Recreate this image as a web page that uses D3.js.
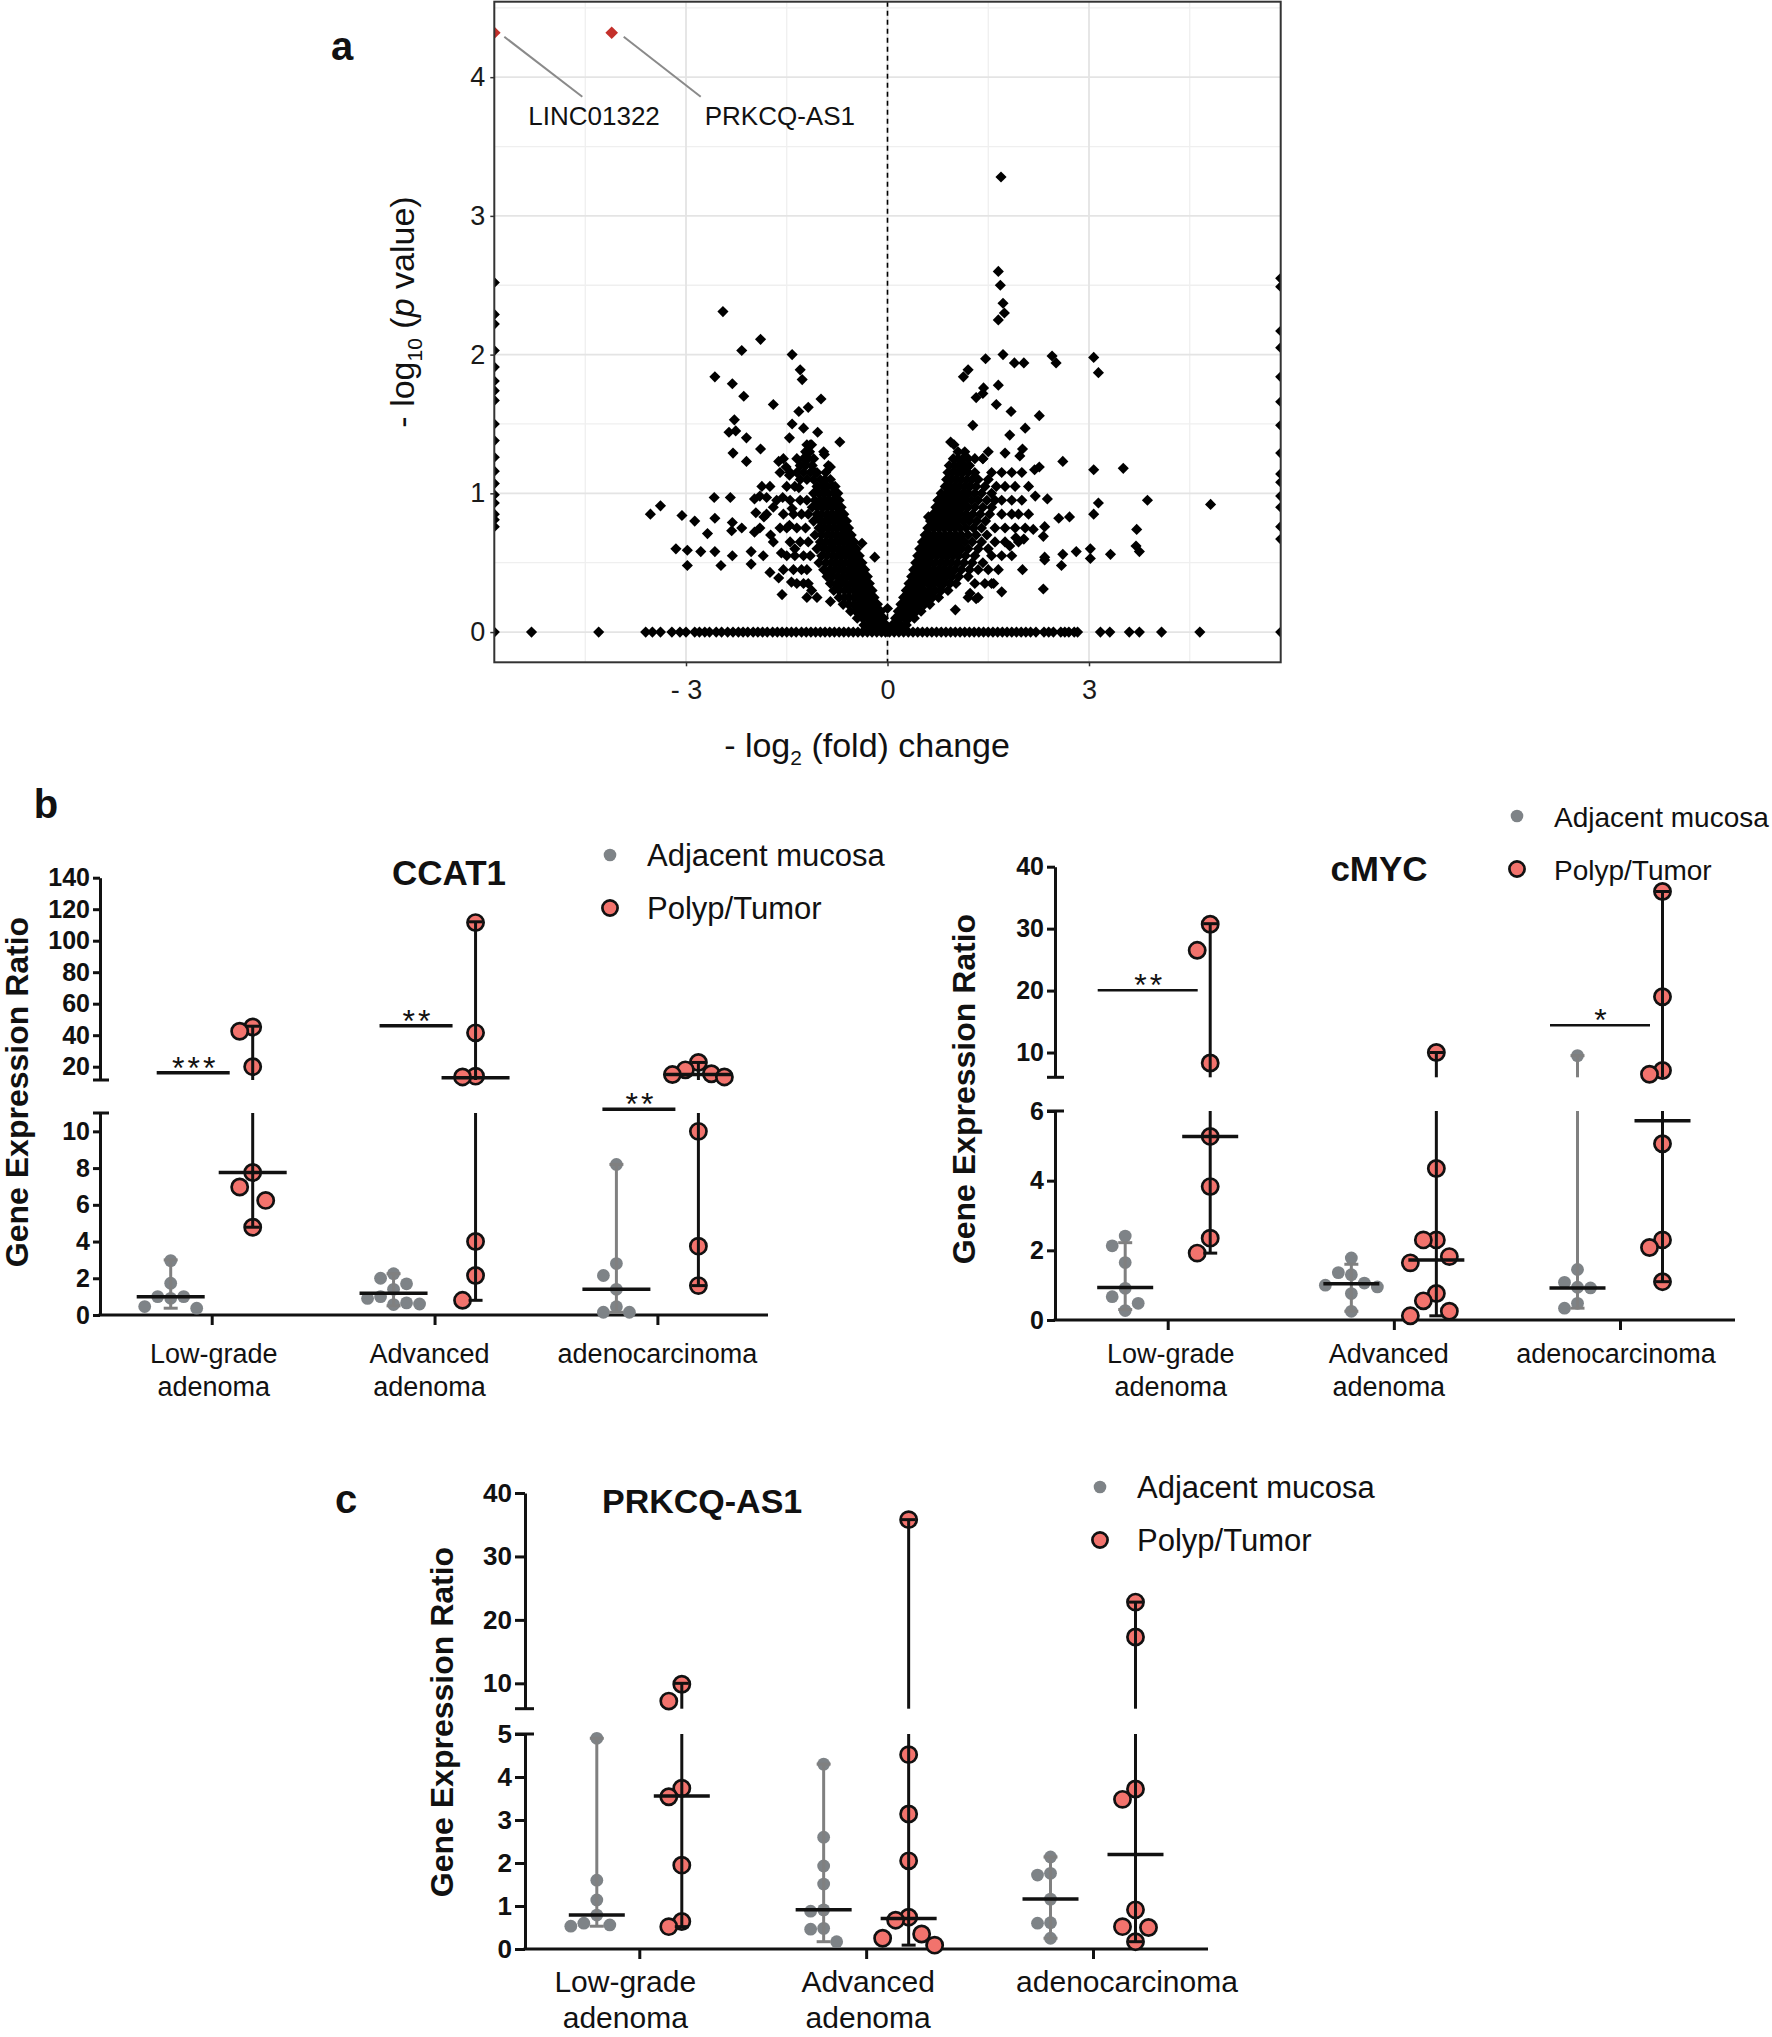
<!DOCTYPE html>
<html>
<head>
<meta charset="utf-8">
<script src="https://cdn.jsdelivr.net/npm/d3@7"></script>
<style>
  body { margin: 0; background: #fff; }
  svg { display: block; }
</style>
</head>
<body>
<script>
(function() {
  'use strict';

  var W = 1772, H = 2037;
  var FONT = '"Liberation Sans", Arial, sans-serif';

  // ---------- panel a : volcano ----------
  var volcanoXTicks = [-3, 0, 3];
  var volcanoXTickLabels = ["- 3", "0", "3"];
  var volcanoYTicks = [0, 1, 2, 3, 4];

  // scattered genes [log2 fold change, -log10 p]
  var volcanoSparse = [
    [-2.45,2.31],[-1.89,2.11],[-2.17,2.03],[-1.42,2.0],[-1.30,1.89],[-1.27,1.82],[-2.57,1.84],[-2.31,1.79],
    [-2.14,1.70],[-1.70,1.64],[-0.99,1.68],[-1.18,1.62],[-1.32,1.59],[-2.28,1.53],[-2.36,1.44],[-2.26,1.45],
    [-1.42,1.50],[-1.25,1.47],[-1.46,1.40],[-1.04,1.44],[-0.71,1.37],[-2.10,1.40],[-1.89,1.32],[-2.30,1.29],
    [-2.10,1.23],[-1.13,1.35],[-1.2,1.3],[-1.22,1.25],[-0.94,1.28],[-1.62,1.23],[-1.51,1.19],[-1.46,1.13],
    [-1.08,1.15],[-0.85,1.19],[-1.87,1.05],[-1.32,1.04],[-2.58,0.97],[-2.34,0.97],[-1.98,0.96],[-1.9,0.98],
    [-1.8,0.97],[-1.56,0.97],[-3.38,0.91],[-3.53,0.85],[-3.06,0.84],[-2.87,0.80],[-2.57,0.82],[-2.31,0.79],
    [-2.17,0.75],[-1.96,0.86],[-1.84,0.83],[-1.70,0.90],[-1.42,0.89],[-2.68,0.71],[-2.32,0.73],[-1.98,0.72],
    [-1.74,0.70],[-1.46,0.77],[-3.15,0.60],[-2.98,0.59],[-2.78,0.58],[-2.57,0.58],[-2.31,0.55],[-2.03,0.58],
    [-1.58,0.57],[-1.38,0.60],[-2.98,0.48],[-2.48,0.48],[-2.03,0.49],[-1.75,0.43],[-1.62,0.39],[-1.43,0.36],
    [-1.18,0.35],[-1.57,0.27],[-1.13,0.30],[-0.85,0.22],[-0.38,0.64],[-0.19,0.54],[0,0.17],
    [1.69,3.28],[1.65,2.60],[1.68,2.50],[1.72,2.37],[1.74,2.30],[1.65,2.25],[1.72,2.0],[1.89,1.94],[2.03,1.94],
    [2.45,1.99],[2.51,1.94],[3.07,1.98],[3.14,1.87],[1.46,1.97],[1.20,1.89],[1.13,1.84],[1.65,1.78],
    [1.43,1.76],[1.42,1.72],[1.32,1.69],[1.62,1.64],[1.84,1.59],[2.26,1.56],[1.27,1.49],[2.05,1.47],
    [1.82,1.42],[0.94,1.37],[0.99,1.35],[2.01,1.32],[1.75,1.29],[1.97,1.27],[1.42,1.25],[2.61,1.23],
    [3.07,1.17],[3.51,1.18],[2.19,1.17],[2.26,1.19],[2.2,0.98],[2.38,0.96],[3.14,0.93],[3.87,0.95],
    [4.81,0.92],[3.07,0.85],[2.55,0.82],[2.71,0.83],[2.34,0.76],[2.17,0.74],[2.32,0.69],[1.91,0.68],
    [2.03,0.67],[3.71,0.74],[3.02,0.60],[3.02,0.53],[2.81,0.58],[2.61,0.56],[2.34,0.54],[2.34,0.52],
    [2.59,0.48],[3.32,0.56],[3.70,0.62],[3.75,0.58],[1.82,0.62],[2.01,0.45],[2.32,0.31],[1.70,0.29],
    [1.58,0.35],[1.23,0.28],[1.32,0.24],[1.01,0.16],[0.75,0.95],[0.61,0.83]
  ];

  // dense clouds, read row by row: [-log10 p, [fold changes]]
  var leftCoreRows = [
    [1.35,[-1.2,-1.15]],
    [1.30,[-1.22,-1.16,-0.95]],
    [1.25,[-1.25,-1.18,-1.1,-1.55,-1.35]],
    [1.20,[-1.3,-1.22,-1.12,-0.88]],
    [1.15,[-1.35,-1.25,-1.15,-1.05,-0.92,-1.6,-1.45]],
    [1.10,[-1.3,-1.2,-1.1,-1.0,-0.93,-0.85]],
    [1.05,[-1.05,-0.97,-0.9,-0.82,-0.78,-1.75,-1.5,-1.38]],
    [1.00,[-1.1,-1.02,-0.95,-0.88,-0.8,-0.74]],
    [0.95,[-1.08,-1.0,-0.93,-0.86,-0.79,-0.72,-1.65,-1.45,-1.3,-1.2]],
    [0.90,[-1.12,-1.04,-0.96,-0.89,-0.82,-0.75,-0.69]],
    [0.85,[-1.05,-0.98,-0.9,-0.83,-0.76,-0.7,-0.65,-1.8,-1.55,-1.4,-1.28,-1.18]],
    [0.80,[-1.1,-1.0,-0.93,-0.86,-0.79,-0.72,-0.66,-0.61]],
    [0.75,[-1.02,-0.95,-0.88,-0.81,-0.74,-0.67,-0.62,-0.58,-1.9,-1.6,-1.5,-1.35,-1.22]],
    [0.70,[-1.08,-0.98,-0.9,-0.83,-0.76,-0.69,-0.63,-0.58,-0.54]],
    [0.65,[-1.0,-0.92,-0.85,-0.78,-0.71,-0.65,-0.59,-0.54,-0.5,-1.7,-1.45,-1.3,-1.18]],
    [0.60,[-1.05,-0.95,-0.87,-0.8,-0.73,-0.66,-0.6,-0.55,-0.5,-0.46]],
    [0.55,[-0.98,-0.9,-0.82,-0.75,-0.68,-0.62,-0.56,-0.51,-0.46,-0.42,-1.85,-1.5,-1.38,-1.25,-1.15]],
    [0.50,[-1.02,-0.92,-0.84,-0.77,-0.7,-0.63,-0.57,-0.52,-0.47,-0.42,-0.38]],
    [0.45,[-0.95,-0.86,-0.79,-0.72,-0.65,-0.58,-0.52,-0.47,-0.42,-0.38,-0.34,-1.55,-1.4,-1.28,-1.2]],
    [0.40,[-0.9,-0.82,-0.74,-0.67,-0.6,-0.54,-0.48,-0.43,-0.38,-0.34,-0.3]],
    [0.35,[-0.85,-0.76,-0.69,-0.62,-0.55,-0.49,-0.44,-0.39,-0.34,-0.3,-0.27,-1.35,-1.25]],
    [0.30,[-0.8,-0.72,-0.64,-0.57,-0.5,-0.44,-0.39,-0.34,-0.3,-0.26,-0.23]],
    [0.25,[-0.72,-0.64,-0.57,-0.5,-0.44,-0.38,-0.33,-0.28,-0.24,-0.2,-1.2,-1.05]],
    [0.20,[-0.66,-0.58,-0.5,-0.43,-0.37,-0.31,-0.26,-0.22,-0.18,-0.15]],
    [0.15,[-0.55,-0.47,-0.4,-0.33,-0.27,-0.22,-0.17,-0.13,-0.1]],
    [0.10,[-0.45,-0.37,-0.3,-0.24,-0.18,-0.13,-0.09,-0.06]],
    [0.05,[-0.35,-0.27,-0.2,-0.14,-0.09,-0.05,-0.02]],
    [0.02,[-0.25,-0.17,-0.1,-0.04,0.0]]
  ];
  var rightCoreRows = [
    [1.30,[1.05,1.15,1.5]],
    [1.25,[0.98,1.05,1.12,1.2,1.3,1.42]],
    [1.20,[0.92,1.0,1.08,1.15,1.22]],
    [1.15,[0.9,0.97,1.05,1.12,1.2,1.3,1.55,1.7,1.85,2.0]],
    [1.10,[0.88,0.95,1.02,1.1,1.18,1.26,1.35,1.5]],
    [1.05,[0.86,0.93,1.0,1.07,1.15,1.23,1.32,1.45,1.62,1.75,1.9,2.1]],
    [1.00,[0.8,0.88,0.96,1.04,1.12,1.2,1.3,1.4,1.55]],
    [0.95,[0.76,0.84,0.92,1.0,1.08,1.16,1.25,1.35,1.48,1.6,1.7,1.85,2.0]],
    [0.90,[0.72,0.8,0.88,0.96,1.04,1.12,1.2,1.3,1.42,1.55]],
    [0.85,[0.68,0.76,0.84,0.92,1.0,1.08,1.17,1.27,1.38,1.52,1.7,1.85,1.95,2.1]],
    [0.80,[0.64,0.72,0.8,0.88,0.96,1.04,1.13,1.22,1.33,1.46]],
    [0.75,[0.6,0.68,0.76,0.84,0.92,1.0,1.08,1.17,1.28,1.4,1.6,1.75,1.9,2.05]],
    [0.70,[0.56,0.63,0.7,0.78,0.86,0.94,1.02,1.1,1.2,1.32,1.48]],
    [0.65,[0.52,0.59,0.66,0.74,0.82,0.9,0.98,1.06,1.15,1.26,1.4,1.6,1.75,1.95]],
    [0.60,[0.48,0.55,0.62,0.7,0.78,0.86,0.94,1.02,1.1,1.2,1.35,1.5]],
    [0.55,[0.45,0.52,0.59,0.66,0.74,0.82,0.9,0.98,1.06,1.16,1.3,1.55,1.7,1.85]],
    [0.50,[0.42,0.49,0.56,0.63,0.71,0.79,0.87,0.95,1.04,1.14,1.26,1.42]],
    [0.45,[0.39,0.46,0.53,0.6,0.68,0.76,0.84,0.92,1.0,1.1,1.22,1.35,1.5,1.65]],
    [0.40,[0.36,0.42,0.49,0.56,0.64,0.72,0.8,0.88,0.96,1.06,1.2]],
    [0.35,[0.32,0.38,0.45,0.52,0.6,0.68,0.76,0.84,0.93,1.02,1.3,1.45,1.55]],
    [0.30,[0.28,0.34,0.41,0.48,0.55,0.63,0.71,0.8,0.9]],
    [0.25,[0.24,0.3,0.37,0.44,0.51,0.59,0.67,0.76,1.2,1.35]],
    [0.20,[0.2,0.26,0.33,0.4,0.47,0.55,0.63]],
    [0.15,[0.16,0.22,0.29,0.36,0.43,0.5]],
    [0.10,[0.12,0.18,0.25,0.32,0.4]],
    [0.05,[0.07,0.13,0.2,0.28]],
    [0.02,[0.03,0.09,0.16]]
  ];

  // genes with p = 1
  var zeroLineX = [
    -5.3,-4.3,-3.6,-3.5,-3.38,-3.21,-3.09,-3.0,-2.87,-2.8,-2.72,-2.65,-2.55,-2.47,-2.38,-2.3,-2.22,-2.15,
    -2.08,-2.0,-1.93,-1.86,-1.79,-1.71,-1.64,-1.57,-1.5,-1.43,-1.36,-1.28,-1.21,-1.14,-1.07,-1.0,-0.93,
    -0.86,-0.79,-0.72,-0.65,-0.58,-0.51,-0.44,-0.37,-0.3,-0.23,-0.16,-0.09,-0.03,0.03,0.1,0.17,0.24,0.31,
    0.38,0.45,0.52,0.59,0.66,0.73,0.8,0.87,0.94,1.01,1.08,1.15,1.22,1.29,1.36,1.43,1.5,1.57,1.64,1.71,
    1.78,1.85,1.92,1.99,2.06,2.13,2.21,2.33,2.4,2.47,2.58,2.64,2.7,2.78,2.83,3.17,3.31,3.6,3.75,4.08,4.65
  ];
  // genes beyond the x range, drawn on the panel edge
  var edgeLeftY = [2.52,2.29,2.22,2.03,1.91,1.81,1.74,1.67,1.5,1.38,1.26,1.16,1.07,0.99,0.93,0.85,0.81,0.76,0];
  var edgeRightY = [2.55,2.49,2.17,2.05,1.84,1.66,1.49,1.29,1.14,1.08,0.98,0.90,0.76,0.67,0];

  var labelledGenes = ["LINC01322", "PRKCQ-AS1"];
  var labelledX = [-7, -4.106];
  var labelledY = [4.32, 4.32];

  // ---------- panels b, c ----------
  var groupNames = ["Low-grade adenoma", "Advanced adenoma", "adenocarcinoma"];
  var groupLines = [["Low-grade", "adenoma"], ["Advanced", "adenoma"], ["adenocarcinoma"]];

  var ccat1Adjacent = [[2.96,1.73,1.0,1.0,0.91,0.46,0.37],
                       [2.25,2.0,1.7,1.4,1.0,0.9,0.66,0.6,0.57],
                       [8.2,2.8,2.15,1.4,0.45,0.15,0.15]];
  var ccat1AdjMedian = [1.0, 1.18, 1.4];
  var ccat1AdjRange = [[0.37,3.0],[0.5,2.25],[0.15,8.2]];
  var ccat1Tumor = [[45.2,42.5,20,7.76,6.97,6.24,4.78],
                    [111.5,41.5,14,13.5,4.0,2.15,0.8],
                    [22.7,18,15.5,15,13.5,10.0,3.75,1.6]];
  var ccat1TumMedian = [7.76, 13, 15];
  var ccat1TumRange = [[4.78,45.7],[0.8,112],[1.6,22.7]];
  var ccat1Stars = ["***", "**", "**"];
  var ccat1StarLevel = [16.2, 46, 11.2];
  var ccat1LowerTicks = [0,2,4,6,8,10];
  var ccat1UpperTicks = [20,40,60,80,100,120,140];

  var cmycAdjacent = [[2.41,2.13,1.65,0.91,0.67,0.48,0.27],
                      [1.78,1.36,1.3,1.06,1.0,0.95,0.76,0.25],
                      [9.5,1.45,1.08,0.94,0.92,0.48,0.34]];
  var cmycAdjMedian = [0.93, 1.04, 0.92];
  var cmycAdjRange = [[0.3,2.22],[0.25,1.6],[0.34,9.5]];
  var cmycTumor = [[30.7,26.5,8.3,5.27,3.83,2.35,1.92],
                   [10.0,4.35,2.3,2.3,1.82,1.64,0.76,0.55,0.25,0.12],
                   [36,19,7.1,6.5,5.06,2.3,2.08,1.1]];
  var cmycTumMedian = [5.27, 1.72, 5.72];
  var cmycTumRange = [[1.92,30.8],[0.12,10],[1.1,36]];
  var cmycStars = ["**", "", "*"];
  var cmycStarLevel = [20.05, null, 14.4];
  var cmycLowerTicks = [0,2,4,6];
  var cmycUpperTicks = [10,20,30,40];

  var prkcqAdjacent = [[4.9,1.6,1.14,0.79,0.6,0.56,0.53],
                       [4.3,2.6,1.93,1.51,0.91,0.88,0.48,0.46,0.17],
                       [2.14,1.76,1.72,1.16,0.61,0.6,0.25]];
  var prkcqAdjMedian = [0.79, 0.91, 1.16];
  var prkcqAdjRange = [[0.53,4.9],[0.17,4.3],[0.25,2.14]];
  var prkcqTumor = [[9.85,7.2,3.74,3.54,1.95,0.64,0.52],
                    [35.8,4.52,3.14,2.05,0.74,0.67,0.35,0.25,0.09],
                    [22.8,17.3,3.72,3.48,0.91,0.52,0.5,0.17]];
  var prkcqTumMedian = [3.56, 0.71, 2.2];
  var prkcqTumRange = [[0.52,10],[0.09,35.8],[0.17,22.8]];
  var prkcqLowerTicks = [0,1,2,3,4,5];
  var prkcqUpperTicks = [10,20,30,40];

  var legendLabels = ["Adjacent mucosa", "Polyp/Tumor"];

  var GREY = "#7e8387", RED = "#f2736d", INK = "#111";
  var intFormat = d3.format("d");

  var svg = d3.select("body")
    .append("svg")
      .attr("width", W)
      .attr("height", H)
      .style("font-family", FONT);

  svg.append("rect").attr("width", W).attr("height", H).attr("fill", "#fff");

  // ================= panel a =================
  var box = {left: 494.3, right: 1280.7, top: 1.7, bottom: 662.3};
  var vx = d3.scaleLinear().domain([-5.854, 5.854]).range([box.left, box.right]).clamp(true);
  var vy = d3.scaleLinear().domain([-0.218, 4.544]).range([box.bottom, box.top]);

  var ga = svg.append("g");

  ga.selectAll(null).data([0.5, 1.5, 2.5, 3.5, 4.5]).enter().append("line")
    .attr("x1", box.left).attr("x2", box.right)
    .attr("y1", function(d) { return vy(d); }).attr("y2", function(d) { return vy(d); })
    .attr("stroke", "#efefef").attr("stroke-width", 1.3);
  ga.selectAll(null).data([-4.5, -1.5, 1.5, 4.5]).enter().append("line")
    .attr("y1", box.top).attr("y2", box.bottom)
    .attr("x1", function(d) { return vx(d); }).attr("x2", function(d) { return vx(d); })
    .attr("stroke", "#efefef").attr("stroke-width", 1.3);
  ga.selectAll(null).data(volcanoYTicks).enter().append("line")
    .attr("x1", box.left).attr("x2", box.right)
    .attr("y1", function(d) { return vy(d); }).attr("y2", function(d) { return vy(d); })
    .attr("stroke", "#e4e4e4").attr("stroke-width", 1.8);
  ga.selectAll(null).data(volcanoXTicks).enter().append("line")
    .attr("y1", box.top).attr("y2", box.bottom)
    .attr("x1", function(d) { return vx(d); }).attr("x2", function(d) { return vx(d); })
    .attr("stroke", "#e4e4e4").attr("stroke-width", 1.8);

  ga.append("line")
    .attr("x1", vx(0)).attr("x2", vx(0)).attr("y1", box.top).attr("y2", box.bottom)
    .attr("stroke", "#000").attr("stroke-width", 1.6).attr("stroke-dasharray", "5,4");

  var volcanoPoints = volcanoSparse.slice();
  leftCoreRows.concat(rightCoreRows).forEach(function(r) {
    r[1].forEach(function(x) { volcanoPoints.push([x, r[0]]); });
  });
  zeroLineX.forEach(function(x) { volcanoPoints.push([x, 0]); });
  edgeLeftY.forEach(function(y) { volcanoPoints.push([-7, y]); });
  edgeRightY.forEach(function(y) { volcanoPoints.push([7, y]); });

  svg.append("clipPath").attr("id", "clipA")
    .append("rect")
      .attr("x", box.left).attr("y", box.top)
      .attr("width", box.right - box.left).attr("height", box.bottom - box.top);

  var diamond = d3.symbol().type(d3.symbolSquare).size(62);
  var bigDiamond = d3.symbol().type(d3.symbolSquare).size(80);
  var pts = ga.append("g").attr("clip-path", "url(#clipA)");
  pts.selectAll(null).data(volcanoPoints).enter().append("path")
    .attr("d", diamond)
    .attr("transform", function(d) { return "translate(" + vx(d[0]) + "," + vy(d[1]) + ") rotate(45)"; })
    .attr("fill", "#000");

  pts.selectAll(null).data(labelledGenes).enter().append("path")
    .attr("d", bigDiamond)
    .attr("transform", function(d, i) { return "translate(" + vx(labelledX[i]) + "," + vy(labelledY[i]) + ") rotate(45)"; })
    .attr("fill", "#c4302b");

  // repel segments + labels
  var labelDx = [[10, 88], [12, 89]];
  ga.selectAll(null).data(labelledGenes).enter().append("line")
    .attr("x1", function(d, i) { return vx(labelledX[i]) + labelDx[i][0]; })
    .attr("y1", function(d, i) { return vy(labelledY[i]) + 4; })
    .attr("x2", function(d, i) { return vx(labelledX[i]) + labelDx[i][1]; })
    .attr("y2", function(d, i) { return vy(labelledY[i]) + 64; })
    .attr("stroke", "#8a8a8a").attr("stroke-width", 2);
  ga.selectAll(null).data(labelledGenes).enter().append("text")
    .attr("x", function(d, i) { return vx(labelledX[i]) + (i === 0 ? 34 : 93); })
    .attr("y", function(d, i) { return vy(labelledY[i]) + 92; })
    .attr("font-size", 26).attr("fill", "#111")
    .text(function(d) { return d; });

  ga.append("rect")
    .attr("x", box.left).attr("y", box.top)
    .attr("width", box.right - box.left).attr("height", box.bottom - box.top)
    .attr("fill", "none").attr("stroke", "#333").attr("stroke-width", 2);

  var ayAxis = ga.append("g").attr("transform", "translate(" + box.left + ",0)")
    .call(d3.axisLeft(vy).tickValues(volcanoYTicks).tickSize(4).tickPadding(5).tickSizeOuter(0)
      .tickFormat(intFormat));
  var axAxis = ga.append("g").attr("transform", "translate(0," + box.bottom + ")")
    .call(d3.axisBottom(vx).tickValues(volcanoXTicks).tickSize(4).tickPadding(14).tickSizeOuter(0)
      .tickFormat(function(d, i) { return volcanoXTickLabels[i]; }));
  [ayAxis, axAxis].forEach(function(a) {
    a.select(".domain").remove();
    a.selectAll("line").attr("stroke", "#333").attr("stroke-width", 1.5);
    a.selectAll("text").attr("font-size", 27).attr("font-family", FONT).attr("fill", "#1a1a1a");
  });

  var xt = ga.append("text").attr("x", 867).attr("y", 757).attr("text-anchor", "middle")
    .attr("font-size", 34).attr("fill", "#111");
  xt.append("tspan").text("- log");
  xt.append("tspan").attr("font-size", 21).attr("dy", 8).text("2");
  xt.append("tspan").attr("dy", -8).text(" (fold) change");

  var yt = ga.append("text").attr("transform", "translate(414,312) rotate(-90)")
    .attr("text-anchor", "middle").attr("font-size", 34).attr("fill", "#111");
  yt.append("tspan").text("- log");
  yt.append("tspan").attr("font-size", 21).attr("dy", 8).text("10");
  yt.append("tspan").attr("dy", -8).text(" (");
  yt.append("tspan").attr("font-style", "italic").text("p");
  yt.append("tspan").text(" value)");

  // ================= panels b, c =================
  function swarm(values, yOf, step, tol) {
    var order = values.map(function(v) { return {v: v, py: yOf(v), dx: 0}; })
      .sort(function(a, b) { return a.py - b.py; });
    var placed = [];
    var cands = [0, -1, 1, -2, 2, -3, 3];
    order.forEach(function(p) {
      for (var k = 0; k < cands.length; k++) {
        var dx = cands[k] * step;
        var hit = placed.some(function(q) {
          return Math.abs(q.py - p.py) < tol && Math.abs(q.dx - dx) < step * 0.5;
        });
        if (!hit) { p.dx = dx; break; }
      }
      placed.push(p);
    });
    return placed;
  }

  function brokenPanel(c) {
    var g = svg.append("g");
    var lower = d3.scaleLinear().domain(c.lowerDomain).range(c.lowerRange);
    var upper = d3.scaleLinear().domain(c.upperDomain).range(c.upperRange);
    var gx = d3.scalePoint().domain(groupNames).range(c.groupRange);
    function yOf(v) {
      if (v <= c.lowerDomain[1]) return lower(v);
      if (v >= c.upperDomain[0]) return upper(v);
      return lower(v);
    }

    // axes
    [[lower, c.lowerTicks], [upper, c.upperTicks]].forEach(function(s) {
      var a = g.append("g").attr("transform", "translate(" + c.axisX + ",0)")
        .call(d3.axisLeft(s[0]).tickValues(s[1]).tickSize(c.tick).tickSizeOuter(0).tickPadding(c.pad)
          .tickFormat(intFormat));
      a.selectAll("path,line").attr("stroke", INK).attr("stroke-width", 3);
      a.selectAll("text").attr("font-size", c.tickFont).attr("font-weight", "bold")
        .attr("font-family", FONT).attr("fill", INK);
    });
    [lower(c.lowerDomain[1]), upper(c.upperDomain[0])].forEach(function(y) {
      g.append("line").attr("x1", c.axisX - c.tick).attr("x2", c.axisX + 9)
        .attr("y1", y).attr("y2", y).attr("stroke", INK).attr("stroke-width", 3);
    });
    g.append("line").attr("x1", c.axisX - 1.5).attr("x2", c.axisEnd)
      .attr("y1", lower(0)).attr("y2", lower(0)).attr("stroke", INK).attr("stroke-width", 3);
    var xa = g.append("g").attr("transform", "translate(0," + lower(0) + ")")
      .call(d3.axisBottom(gx).tickSize(10).tickFormat(""));
    xa.select(".domain").remove();
    xa.selectAll("line").attr("stroke", INK).attr("stroke-width", 3);

    groupLines.forEach(function(lines, i) {
      var lx = gx(groupNames[i]) + c.labelShift[i];
      var t = g.append("text").attr("x", lx).attr("y", c.labelY)
        .attr("text-anchor", "middle").attr("font-size", c.labelFont).attr("fill", INK);
      lines.forEach(function(l, j) {
        t.append("tspan").attr("x", lx).attr("dy", j === 0 ? 0 : c.labelGap).text(l);
      });
    });

    g.append("text").attr("transform", "translate(" + c.titleX + "," + c.titleY + ") rotate(-90)")
      .attr("text-anchor", "middle").attr("font-size", 32).attr("font-weight", "bold").attr("fill", INK)
      .text("Gene Expression Ratio");

    g.append("text").attr("x", c.geneX).attr("y", c.geneY).attr("text-anchor", c.geneAnchor)
      .attr("font-size", c.geneFont).attr("font-weight", "bold").attr("fill", INK).text(c.gene);

    // dots
    groupNames.forEach(function(name, i) {
      var cxA = gx(name) - c.offset, cxT = gx(name) + c.offset;
      g.selectAll(null).data(swarm(c.adj[i], yOf, 13, 15)).enter().append("circle")
        .attr("cx", function(d) { return cxA + d.dx; }).attr("cy", function(d) { return d.py; })
        .attr("r", 6.4).attr("fill", GREY);
      g.selectAll(null).data(swarm(c.tum[i], yOf, 13, 28)).enter().append("circle")
        .attr("cx", function(d) { return cxT + d.dx; }).attr("cy", function(d) { return d.py; })
        .attr("r", 8.1).attr("fill", RED).attr("stroke", INK).attr("stroke-width", 2.7);
    });

    // median with range
    function bar(cx, range, med, color) {
      [[lower, [0, c.lowerDomain[1]]], [upper, c.upperDomain]].forEach(function(s) {
        var a = Math.max(range[0], s[1][0]), b = Math.min(range[1], s[1][1]);
        if (a < b) {
          g.append("line").attr("x1", cx).attr("x2", cx).attr("y1", s[0](a)).attr("y2", s[0](b))
            .attr("stroke", color).attr("stroke-width", 3);
        }
      });
      range.forEach(function(v) {
        g.append("line").attr("x1", cx - 7).attr("x2", cx + 7).attr("y1", yOf(v)).attr("y2", yOf(v))
          .attr("stroke", color).attr("stroke-width", 3);
      });
      g.append("line").attr("x1", cx - c.medHalf).attr("x2", cx + c.medHalf)
        .attr("y1", yOf(med)).attr("y2", yOf(med)).attr("stroke", INK).attr("stroke-width", 3.5);
    }
    groupNames.forEach(function(name, i) {
      bar(gx(name) - c.offset, c.adjRange[i], c.adjMed[i], "#808080");
      bar(gx(name) + c.offset, c.tumRange[i], c.tumMed[i], INK);
    });

    // significance
    if (c.stars) {
      c.stars.forEach(function(s, i) {
        if (!s) return;
        var x0 = gx(groupNames[i]) + c.starBar[0], x1 = gx(groupNames[i]) + c.starBar[1];
        var y = yOf(c.starLevel[i]);
        g.append("line").attr("x1", x0).attr("x2", x1).attr("y1", y).attr("y2", y)
          .attr("stroke", INK).attr("stroke-width", c.starWidth);
        g.append("text").attr("x", (x0 + x1) / 2 + 2).attr("y", y + 6).attr("text-anchor", "middle")
          .attr("font-size", 32).attr("letter-spacing", 3).attr("fill", INK).text(s);
      });
    }

    // legend
    g.append("circle").attr("cx", c.legX).attr("cy", c.legY).attr("r", 6.3).attr("fill", GREY);
    g.append("circle").attr("cx", c.legX).attr("cy", c.legY + 53).attr("r", 7.6)
      .attr("fill", RED).attr("stroke", INK).attr("stroke-width", 2.7);
    legendLabels.forEach(function(l, i) {
      g.append("text").attr("x", c.legX + 37).attr("y", c.legY + 11 + i * 53)
        .attr("font-size", c.legFont).attr("fill", INK).text(l);
    });
  }

  brokenPanel({
    gene: "CCAT1", geneX: 449, geneY: 885, geneAnchor: "middle", geneFont: 35,
    axisX: 100, axisEnd: 768, tick: 7, pad: 3, tickFont: 25,
    lowerDomain: [0, 11], lowerRange: [1315, 1113],
    upperDomain: [11.55, 140], upperRange: [1080, 877.7],
    lowerTicks: ccat1LowerTicks, upperTicks: ccat1UpperTicks,
    groupRange: [211.7, 657.4], offset: 41, medHalf: 34,
    labelY: 1363, labelGap: 33, labelFont: 27, labelShift: [2, -5, 0],
    titleX: 28, titleY: 1092,
    adj: ccat1Adjacent, adjMed: ccat1AdjMedian, adjRange: ccat1AdjRange,
    tum: ccat1Tumor, tumMed: ccat1TumMedian, tumRange: ccat1TumRange,
    stars: ccat1Stars, starLevel: ccat1StarLevel, starBar: [-55, 18], starWidth: 3.5,
    legX: 610, legY: 855, legFont: 31
  });

  brokenPanel({
    gene: "cMYC", geneX: 1379, geneY: 881, geneAnchor: "middle", geneFont: 35,
    axisX: 1055, axisEnd: 1735, tick: 8, pad: 3, tickFont: 25,
    lowerDomain: [0, 6], lowerRange: [1320, 1111],
    upperDomain: [6, 40], upperRange: [1077.3, 866.7],
    lowerTicks: cmycLowerTicks, upperTicks: cmycUpperTicks,
    groupRange: [1167.7, 1620], offset: 42.5, medHalf: 28,
    labelY: 1363, labelGap: 33, labelFont: 27, labelShift: [3, -5, -4],
    titleX: 975, titleY: 1089,
    adj: cmycAdjacent, adjMed: cmycAdjMedian, adjRange: cmycAdjRange,
    tum: cmycTumor, tumMed: cmycTumMedian, tumRange: cmycTumRange,
    stars: cmycStars, starLevel: cmycStarLevel, starBar: [-70, 30], starWidth: 2.6,
    legX: 1517, legY: 816, legFont: 28
  });

  brokenPanel({
    gene: "PRKCQ-AS1", geneX: 602, geneY: 1513, geneAnchor: "start", geneFont: 34,
    axisX: 525, axisEnd: 1208, tick: 10, pad: 3, tickFont: 26,
    lowerDomain: [0, 5], lowerRange: [1949, 1734],
    upperDomain: [6, 40], upperRange: [1708.7, 1493],
    lowerTicks: prkcqLowerTicks, upperTicks: prkcqUpperTicks,
    groupRange: [639.3, 1093], offset: 42.5, medHalf: 28,
    labelY: 1992, labelGap: 36, labelFont: 30, labelShift: [-14, 2, 34],
    titleX: 453, titleY: 1722,
    adj: prkcqAdjacent, adjMed: prkcqAdjMedian, adjRange: prkcqAdjRange,
    tum: prkcqTumor, tumMed: prkcqTumMedian, tumRange: prkcqTumRange,
    stars: null,
    legX: 1100, legY: 1487, legFont: 31
  });

  // panel letters
  svg.selectAll(null).data([["a", 342, 60], ["b", 46, 818], ["c", 346, 1513]]).enter().append("text")
    .attr("x", function(d) { return d[1]; }).attr("y", function(d) { return d[2]; })
    .attr("text-anchor", "middle").attr("font-size", 40).attr("font-weight", "bold").attr("fill", INK)
    .text(function(d) { return d[0]; });

})();
</script>
</body>
</html>
